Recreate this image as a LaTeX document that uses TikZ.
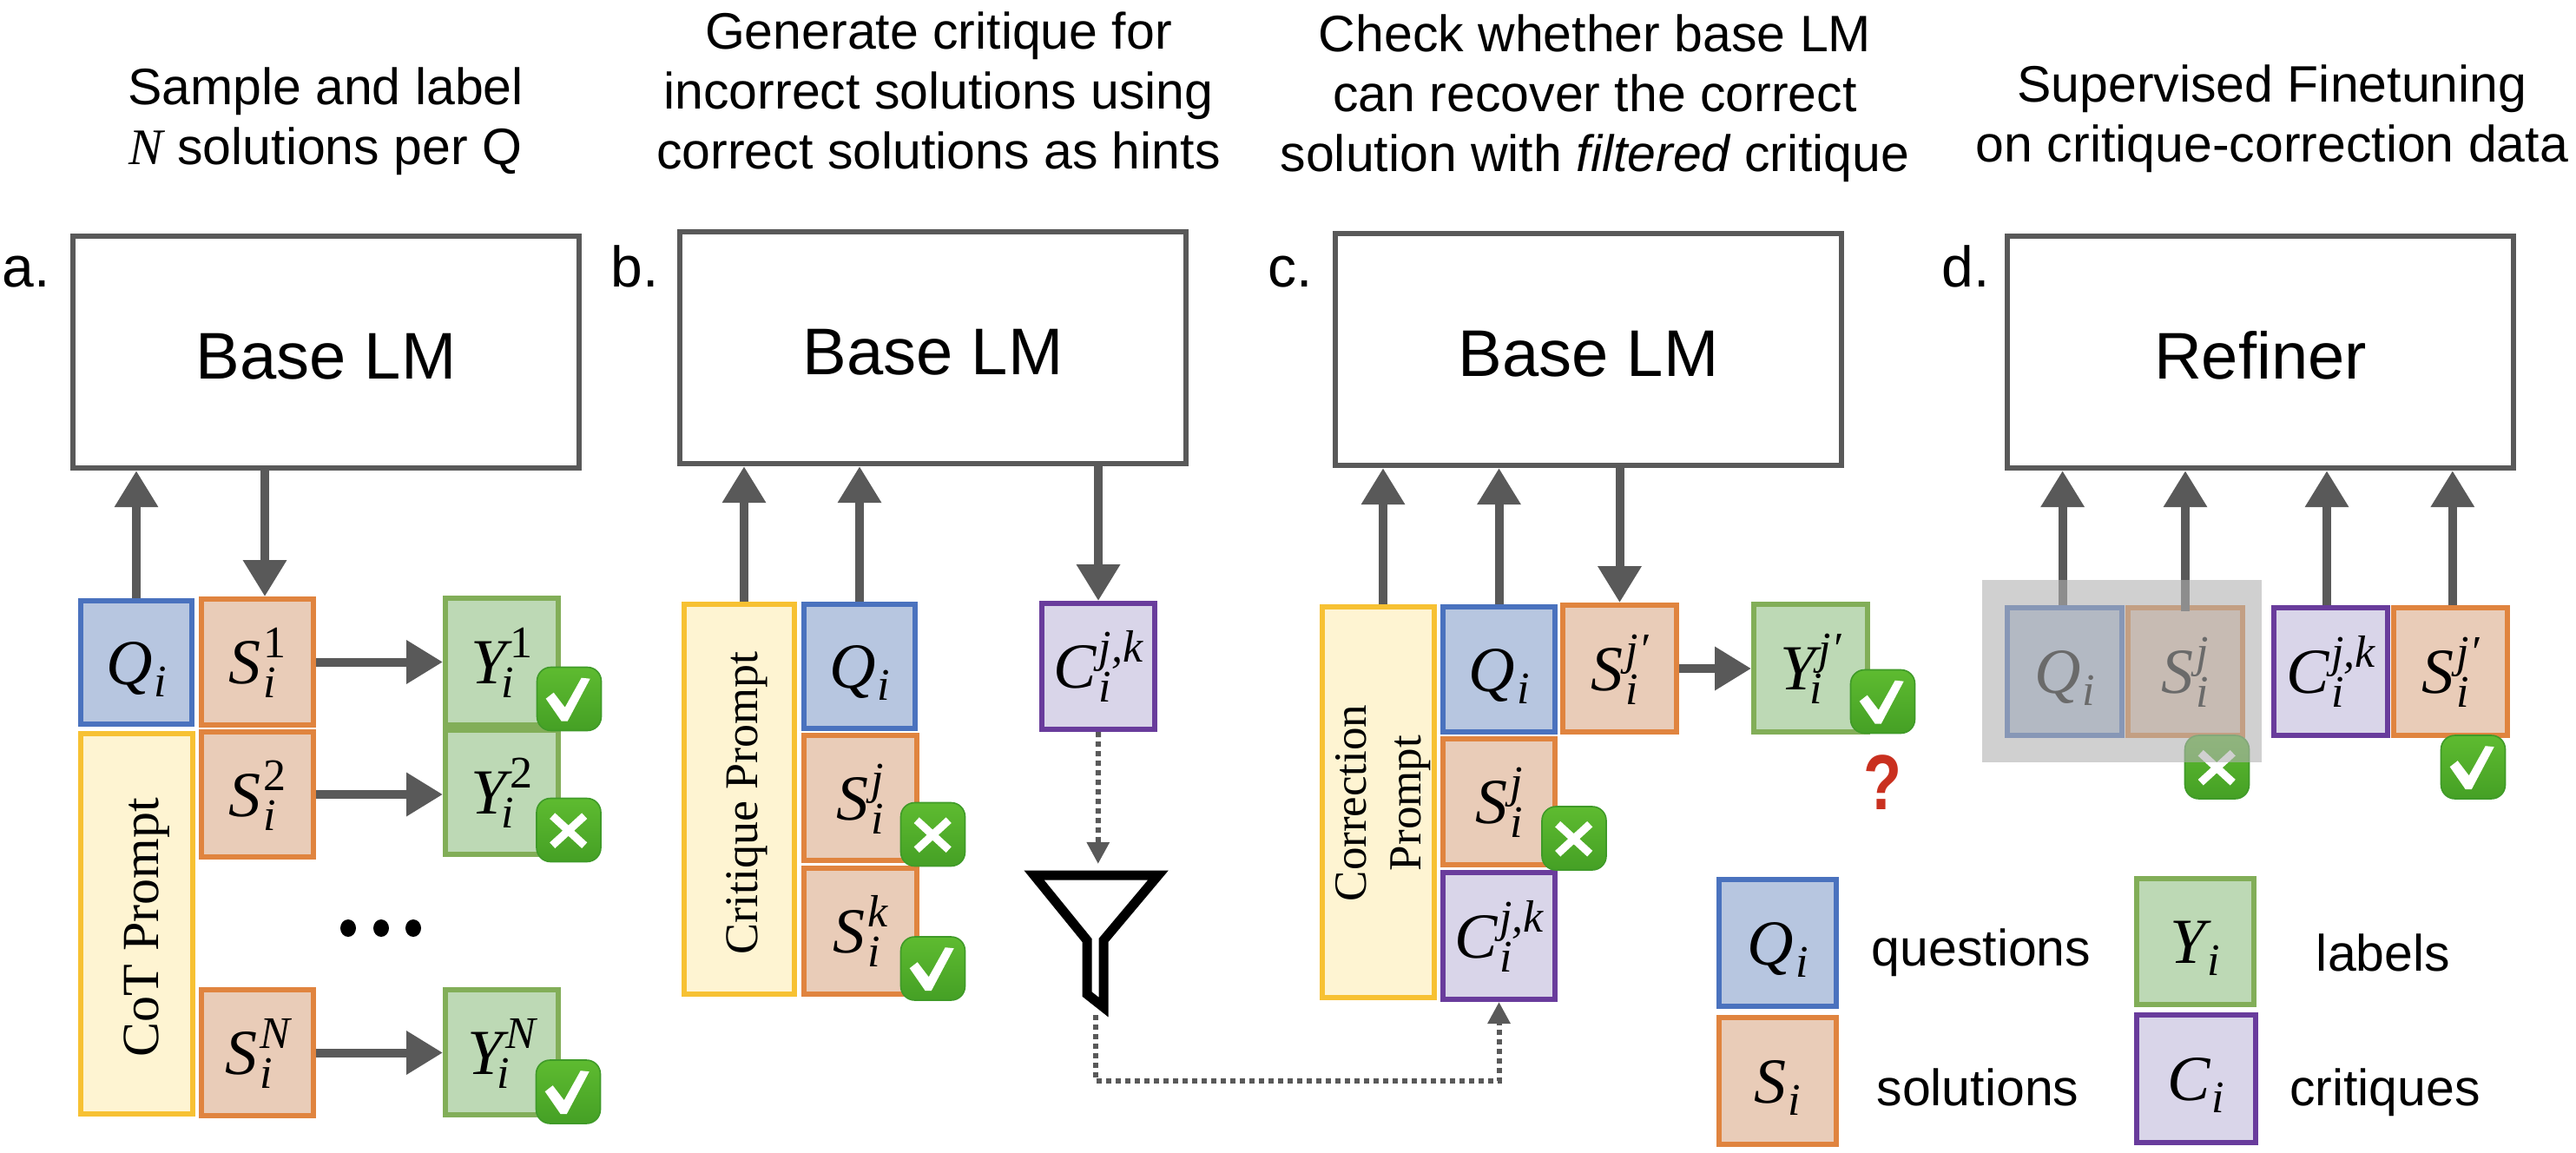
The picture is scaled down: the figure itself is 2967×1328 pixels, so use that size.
\documentclass[tikz,border=0pt]{standalone}
\usepackage{fontspec}
\usetikzlibrary{arrows.meta,calc}
\setmainfont{Liberation Sans}
\newfontfamily\serifm{Liberation Serif}
\newcommand\symf{\serifm\itshape\fontsize{37}{42}\selectfont}
\newcommand\symfs{\serifm\itshape\fontsize{26}{30}\selectfont}
\newcommand\symstrut{\rule{0pt}{33pt}\rule[-8pt]{0pt}{8pt}}
\newcommand\msym[3]{\symstrut\setbox0\hbox{\symfs #3}\setbox2\hbox{\symfs #2}{\symf #1}\kern1.5pt\ifdim\wd0>\wd2 \rlap{\raise-8pt\box2}\raise15pt\box0 \else\rlap{\raise15pt\box0}\raise-8pt\box2 \fi}
\newcommand\msub[2]{\symstrut{\symf #1}\kern1pt\raise-7pt\hbox{\symfs #2}}
\definecolor{arrowgray}{HTML}{595959}
\definecolor{qfill}{HTML}{B7C6E0}\definecolor{qline}{HTML}{4A72BE}
\definecolor{sfill}{HTML}{E9CCB8}\definecolor{sline}{HTML}{E0843F}
\definecolor{yfill}{HTML}{BDD9B5}\definecolor{yline}{HTML}{82AE58}
\definecolor{cfill}{HTML}{D9D5E9}\definecolor{cline}{HTML}{693C9C}
\definecolor{pfill}{HTML}{FEF4D2}\definecolor{pline}{HTML}{F7C133}
\definecolor{badgetop}{HTML}{5EBB30}\definecolor{badgebot}{HTML}{45A025}\definecolor{badgeline}{HTML}{3F9A28}
\definecolor{veilgray}{RGB}{177,177,177}
\definecolor{qmark}{HTML}{C9301F}
\tikzset{
 basebox/.style={draw=arrowgray,line width=3pt,fill=white,inner sep=0pt,
   font=\fontsize{38}{44}\selectfont,text height=31.2pt,text depth=0pt},
 qbox/.style={draw=qline,fill=qfill,line width=2.8pt,inner sep=0pt},
 sbox/.style={draw=sline,fill=sfill,line width=2.8pt,inner sep=0pt},
 ybox/.style={draw=yline,fill=yfill,line width=2.8pt,inner sep=0pt},
 cbox/.style={draw=cline,fill=cfill,line width=2.8pt,inner sep=0pt},
 pbox/.style={draw=pline,fill=pfill,line width=2.8pt,inner sep=0pt},
 arr/.style={draw=arrowgray,line width=5pt,-{Triangle[length=21pt,width=24pt]}},
 dotarr/.style={draw=arrowgray,line width=3pt,dash pattern=on 3pt off 2.5pt,-{Triangle[length=12.5pt,width=12.5pt]}},
 title/.style={align=center,font=\fontsize{29.5}{34.5}\selectfont,inner sep=0pt},
 plabel/.style={rotate=90,align=center,inner sep=0pt},
 tag/.style={anchor=base west,inner sep=0pt,font=\fontsize{33}{38}\selectfont},
 legend/.style={anchor=base,inner sep=0pt,font=\fontsize{29.5}{34}\selectfont},
 badge/.style={draw=badgeline,line width=0.8pt,rounded corners=8pt,top color=badgetop,bottom color=badgebot,
   minimum width=37pt,minimum height=36.5pt,inner sep=0pt},
}
\newcommand\bx[7]{%
 \pgfmathsetmacro\bxcx{(#3+#5)/2}\pgfmathsetmacro\bxcy{(#4+#6)/2}%
 \pgfmathsetmacro\bxw{(#5-#3)*0.5-2.8}\pgfmathsetmacro\bxh{(#6-#4)*0.5-2.8}%
 \node[#1,minimum width=\bxw pt,minimum height=\bxh pt] (#2) at (\bxcx,\bxcy) {#7};}
\newcommand\okbadge[3]{%
 \node[badge] (#1) at (#2,#3) {};
 \fill[white,shift={(#1.north west)}] (11,37)--(20,30)--(33,47)--(52,13)--(62,14)--(36,63)--(29,63)--cycle;}
\newcommand\nobadge[3]{%
 \node[badge] (#1) at (#2,#3) {};
 \draw[white,line width=4.5pt,shift={(#1.north west)}] (19,21)--(56,55) (56,21)--(19,55);}
\begin{document}
\begin{tikzpicture}[x=0.5pt,y=-0.5pt]
\useasboundingbox (0,0) rectangle (2967,1328);
% titles
\node[title] (ta) at (375,140) {Sample and label\\{\serifm\itshape N} solutions per Q};
\node[title] (tb) at (1081,104) {Generate critique for\\incorrect solutions using\\correct solutions as hints};
\node[title] (tc) at (1837,113) {Check whether base LM\\can recover the correct\\solution with {\itshape filtered} critique};
\node[title] (td) at (2617,137) {Supervised Finetuning\\on critique-correction data};
% tags
\node[tag] (la) at (2,330) {a.};
\node[tag] (lb) at (703,330) {b.};
\node[tag] (lc) at (1460,330) {c.};
\node[tag] (ld) at (2236,330) {d.};
% panel a
\bx{basebox}{basea}{81}{269}{670}{542}{Base LM}
\bx{qbox}{Qa}{90}{689}{224}{837}{\msub{Q}{i}}
\bx{pbox}{Pa}{90}{842}{225}{1286}{}
\node[plabel,font=\serifm\fontsize{30}{35}\selectfont] (Pal) at (169,1068) {CoT Prompt};
\bx{sbox}{Sa}{229}{687}{364}{838}{\msym{S}{i}{\upshape 1}}
\bx{sbox}{Sb}{229}{840}{364}{990}{\msym{S}{i}{\upshape 2}}
\bx{sbox}{Sc}{229}{1137}{364}{1288}{\msym{S}{i}{N}}
\bx{ybox}{Ya}{510}{686}{646}{838}{\msym{Y}{\kern-5pt i}{\upshape 1}}
\bx{ybox}{Yb}{510}{838}{646}{987}{\msym{Y}{\kern-5pt i}{\upshape 2}}
\bx{ybox}{Yc}{510}{1137}{646}{1287}{\msym{Y}{\kern-5pt i}{N}}
\okbadge{ba}{655.5}{805}
\nobadge{bb}{655}{956}
\okbadge{bc}{654.5}{1257.5}
\draw[arr] (Qa.north) -- (Qa.north |- basea.south);
\draw[arr] ([xshift=4.25pt]Sa.north |- basea.south) -- ([xshift=4.25pt]Sa.north);
\draw[arr] (Sa.east) -- (Sa.east -| Ya.west);
\draw[arr] (Sb.east) -- (Sb.east -| Yb.west);
\draw[arr] (Sc.east) -- (Sc.east -| Yc.west);
\fill (401,1069) ellipse [x radius=9,y radius=10];
\fill (439,1069) ellipse [x radius=9,y radius=10];
\fill (476,1069) ellipse [x radius=9,y radius=10];
% panel b
\bx{basebox}{baseb}{780}{264}{1369}{537}{Base LM}
\bx{pbox}{Pb}{785}{693}{918}{1148}{}
\node[plabel,font=\serifm\fontsize{27}{32}\selectfont] (Pbl) at (860,925) {Critique Prompt};
\bx{qbox}{Qb}{923}{693}{1057}{842}{\msub{Q}{i}}
\bx{sbox}{Sjb}{923}{844}{1059}{994}{\msym{S}{i}{j}}
\bx{sbox}{Skb}{923}{997}{1059}{1148}{\msym{S}{i}{k}}
\nobadge{bd}{1074.5}{961}
\okbadge{be}{1074.5}{1115.5}
\bx{cbox}{Cb}{1197}{692}{1333}{843}{\msym{C}{i}{j,k}}
\draw[arr] ([xshift=2.75pt]Pb.north) -- ([xshift=2.75pt]Pb.north |- baseb.south);
\draw[arr] (Qb.north) -- (Qb.north |- baseb.south);
\draw[arr] (Cb.north |- baseb.south) -- (Cb.north);
% funnel
\draw[black,line width=5.5pt,miter limit=10] (1191,1008) -- (1334,1008) -- (1271,1083) -- (1271,1160) -- (1252,1145) -- (1252,1083) -- cycle;
\coordinate (funnelin) at (1264.75,995);
\coordinate (funnelout) at (1262,1169);
\coordinate (bend) at (1726.5,1245);
\draw[dotarr] (Cb.south) -- (funnelin);
% panel c
\bx{basebox}{basec}{1535}{266}{2124}{539}{Base LM}
\bx{pbox}{Pc}{1520}{696}{1655}{1152}{}
\node[plabel,font=\serifm\fontsize{26.5}{31.5}\selectfont] (Pcl) at (1593,925) {Correction\\Prompt};
\bx{qbox}{Qc}{1659}{696}{1794}{846}{\msub{Q}{i}}
\bx{sbox}{Sjc}{1659}{848}{1794}{999}{\msym{S}{i}{j}}
\bx{cbox}{Cc}{1659}{1002}{1794}{1154}{\msym{C}{i}{j,k}}
\bx{sbox}{Spc}{1797}{694}{1934}{846}{\msym{S}{i}{j′}}
\bx{ybox}{Yd}{2017}{693}{2154}{846}{\msym{Y}{\kern-5pt i}{j′}}
\nobadge{bf}{1813}{965.5}
\okbadge{bg}{2168.5}{808}
\draw[arr] ([xshift=2.75pt]Pc.north) -- ([xshift=2.75pt]Pc.north |- basec.south);
\draw[arr] (Qc.north) -- (Qc.north |- basec.south);
\draw[arr] (Spc.north |- basec.south) -- (Spc.north);
\draw[arr] (Spc.east) -- (Spc.east -| Yd.west);
\draw[dotarr] (funnelout) |- (bend) -- (Cc.south);
\node[inner sep=0pt,text=qmark,font=\bfseries\fontsize{45}{50}\selectfont] (qm) at (2168,901) {\scalebox{.8}[1]{?}};
% panel d
\bx{basebox}{based}{2309}{269}{2898}{542}{Refiner}
\bx{qbox}{Qd}{2309}{697}{2447}{850}{\msub{Q}{i}}
\bx{sbox}{Sjd}{2448}{697}{2586}{850}{\msym{S}{i}{j}}
\bx{cbox}{Cd}{2616}{697}{2753}{850}{\msym{C}{i}{j,k}}
\bx{sbox}{Spd}{2754}{697}{2891}{850}{\msym{S}{i}{j′}}
\okbadge{bi}{2848.5}{883.5}
\nobadge{bh}{2553.5}{883.5}
\draw[arr] ([xshift=-1.2pt]Qd.north) -- ([xshift=-1.2pt]Qd.north |- based.south);
\draw[arr] ([yshift=-3.5pt]Sjd.north) -- (Sjd.north |- based.south);
\draw[arr] ([xshift=-2.25pt]Cd.north) -- ([xshift=-2.25pt]Cd.north |- based.south);
\draw[arr] ([xshift=1.15pt]Spd.north) -- ([xshift=1.15pt]Spd.north |- based.south);
\node[fill=veilgray,fill opacity=0.6,minimum width=161pt,minimum height=104.75pt,inner sep=0pt,outer sep=0pt] (veil) at (2444,772.75) {};
% legend
\bx{qbox}{Lq}{1977}{1010}{2118}{1162}{\msub{Q}{i}}
\bx{sbox}{Ls}{1977}{1169}{2118}{1321}{\msub{S}{i}}
\bx{ybox}{Ly}{2458}{1009}{2599}{1160}{\msub{Y}{i}}
\bx{cbox}{Lc}{2458}{1166}{2601}{1319}{\msub{C}{i}}
\node[legend] (tq) at (2282,1112) {questions};
\node[legend] (ts) at (2278,1273) {solutions};
\node[legend] (ty) at (2745,1118) {labels};
\node[legend] (tz) at (2747,1273) {critiques};
\end{tikzpicture}
\end{document}
